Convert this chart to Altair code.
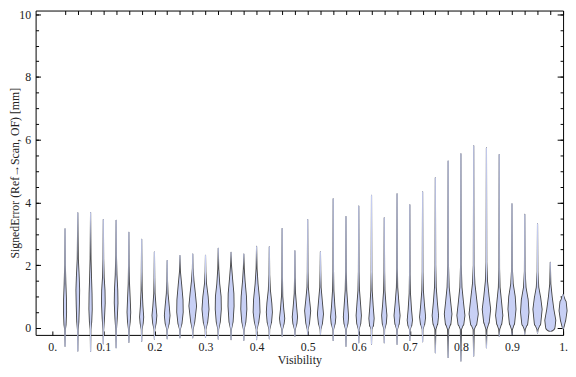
import altair as alt
import pandas as pd

# Violin positions (Visibility bins)
visibility = [0.025, 0.05, 0.075, 0.1, 0.125, 0.15, 0.175, 0.2, 0.225, 0.25,
              0.275, 0.3, 0.325, 0.35, 0.375, 0.4, 0.425, 0.45, 0.475, 0.5,
              0.525, 0.55, 0.575, 0.6, 0.625, 0.65, 0.675, 0.7, 0.725, 0.75,
              0.775, 0.8, 0.825, 0.85, 0.875, 0.9, 0.925, 0.95, 0.975, 1.0]

# Extremes of the signed error per bin [mm]
err_min = [-0.58, -0.73, -0.75, -0.50, -0.63, -0.45, -0.42, -0.35, -0.34, -0.31,
           -0.31, -0.30, -0.35, -0.37, -0.39, -0.37, -0.34, -0.26, -0.26, -0.21,
           -0.21, -0.40, -0.58, -0.47, -0.52, -0.47, -0.52, -0.40, -0.44, -0.79,
           -0.94, -1.05, -0.89, -0.63, -0.26, -0.21, -0.20, -0.16, -0.10, -0.02]
err_max = [3.16, 3.67, 3.68, 3.46, 3.43, 3.05, 2.83, 2.42, 2.15, 2.31,
           2.36, 2.32, 2.54, 2.41, 2.36, 2.60, 2.59, 3.17, 2.46, 3.46,
           2.43, 4.12, 3.55, 3.89, 4.23, 3.51, 4.28, 3.93, 4.34, 4.79,
           5.32, 5.55, 5.81, 5.74, 5.53, 3.96, 3.62, 3.32, 2.09, 1.07]

# Density profile knots (error value, relative density) between the extremes
knot_err = [
    [-0.05, 0.1, 0.5, 0.9, 1.4, 2.0],
    [-0.05, 0.2, 0.7, 1.2, 1.6, 2.2],
    [-0.05, 0.2, 0.6, 1.1, 1.6, 2.2],
    [-0.05, 0.3, 0.8, 1.2, 1.6, 2.2],
    [-0.05, 0.3, 0.8, 1.2, 1.7, 2.3],
    [-0.05, 0.2, 0.5, 0.9, 1.4, 2.0],
    [-0.05, 0.15, 0.35, 0.7, 1.2, 1.8],
    [-0.05, 0.15, 0.4, 0.7, 1.1, 1.6],
    [-0.05, 0.15, 0.4, 0.7, 1.1, 1.5],
    [-0.05, 0.15, 0.5, 0.9, 1.4, 1.8],
    [-0.05, 0.2, 0.7, 1.1, 1.5, 1.9],
    [-0.05, 0.2, 0.6, 1.0, 1.4, 1.8],
    [-0.05, 0.2, 0.6, 1.0, 1.4, 1.9],
    [-0.05, 0.2, 0.7, 1.1, 1.6, 2.0],
    [-0.05, 0.2, 0.6, 1.0, 1.5, 1.9],
    [-0.05, 0.2, 0.5, 0.9, 1.4, 1.9],
    [-0.05, 0.2, 0.5, 0.8, 1.2, 1.7],
    [-0.05, 0.15, 0.3, 0.6, 1.0, 1.6],
    [-0.05, 0.15, 0.35, 0.7, 1.1, 1.6],
    [-0.05, 0.15, 0.55, 0.9, 1.3, 1.8],
    [-0.05, 0.15, 0.45, 0.8, 1.3, 1.8],
    [-0.05, 0.15, 0.35, 0.7, 1.2, 1.8],
    [-0.05, 0.15, 0.35, 0.7, 1.2, 1.8],
    [-0.05, 0.15, 0.4, 0.75, 1.2, 1.8],
    [-0.05, 0.1, 0.3, 0.7, 1.2, 1.8],
    [-0.05, 0.15, 0.4, 0.75, 1.2, 1.8],
    [-0.05, 0.15, 0.4, 0.8, 1.3, 1.9],
    [-0.05, 0.1, 0.25, 0.6, 1.1, 1.7],
    [-0.05, 0.15, 0.35, 0.75, 1.2, 1.8],
    [-0.05, 0.15, 0.4, 0.8, 1.3, 2.0],
    [-0.05, 0.15, 0.45, 0.8, 1.3, 2.0],
    [-0.05, 0.15, 0.4, 0.8, 1.3, 2.0],
    [-0.05, 0.15, 0.45, 0.85, 1.4, 2.0],
    [-0.05, 0.2, 0.6, 1.0, 1.5, 2.1],
    [-0.05, 0.15, 0.4, 0.8, 1.3, 1.9],
    [-0.05, 0.15, 0.6, 1.0, 1.4, 1.9],
    [-0.05, 0.15, 0.5, 0.9, 1.3, 1.8],
    [-0.05, 0.15, 0.6, 0.95, 1.3, 1.8],
    [-0.05, 0.05, 0.25, 0.6, 1.0, 1.4],
    [0.05, 0.25, 0.55, 0.8, 0.95],
]
knot_dens = [
    [0.3, 1.0, 1.5, 1.4, 0.8, 0.3],
    [0.3, 1.0, 1.5, 1.8, 1.4, 0.5],
    [0.3, 1.1, 1.6, 1.4, 0.9, 0.4],
    [0.3, 1.1, 1.8, 1.6, 0.8, 0.3],
    [0.3, 1.1, 1.8, 1.6, 0.8, 0.3],
    [0.3, 1.3, 1.8, 1.3, 0.6, 0.3],
    [0.3, 1.5, 2.0, 1.2, 0.5, 0.3],
    [0.3, 1.7, 2.4, 1.5, 0.6, 0.3],
    [0.3, 2.0, 2.8, 2.0, 0.8, 0.3],
    [0.3, 2.0, 3.2, 3.0, 1.6, 0.4],
    [0.3, 2.0, 3.8, 2.6, 1.2, 0.3],
    [0.3, 2.2, 3.5, 2.6, 1.0, 0.3],
    [0.3, 2.0, 3.0, 2.8, 1.4, 0.4],
    [0.3, 2.0, 3.0, 2.8, 1.4, 0.4],
    [0.3, 2.0, 3.0, 2.6, 1.2, 0.4],
    [0.3, 2.2, 3.4, 3.0, 1.4, 0.4],
    [0.3, 2.2, 3.0, 2.4, 1.0, 0.3],
    [0.3, 2.0, 2.6, 1.6, 0.6, 0.3],
    [0.3, 2.0, 2.6, 1.6, 0.6, 0.3],
    [0.3, 1.8, 3.0, 1.8, 0.6, 0.3],
    [0.3, 2.0, 3.0, 2.0, 0.6, 0.3],
    [0.3, 2.0, 2.6, 1.6, 0.6, 0.3],
    [0.3, 2.0, 2.6, 1.8, 0.7, 0.3],
    [0.3, 2.0, 2.6, 1.8, 0.7, 0.3],
    [0.3, 2.0, 2.6, 1.6, 0.6, 0.3],
    [0.3, 2.0, 2.6, 1.6, 0.6, 0.3],
    [0.3, 2.2, 3.0, 1.8, 0.6, 0.3],
    [0.3, 2.0, 2.6, 1.6, 0.6, 0.3],
    [0.3, 2.2, 3.0, 1.8, 0.7, 0.3],
    [0.4, 2.4, 3.2, 2.0, 0.8, 0.3],
    [0.5, 2.8, 3.8, 2.6, 1.0, 0.3],
    [0.5, 3.0, 4.0, 2.6, 1.0, 0.3],
    [0.5, 3.2, 4.6, 3.2, 1.2, 0.3],
    [0.4, 2.8, 4.2, 2.6, 1.0, 0.3],
    [0.4, 2.6, 3.6, 2.4, 0.8, 0.3],
    [0.4, 2.6, 4.0, 3.2, 1.2, 0.3],
    [0.4, 3.0, 4.2, 3.4, 1.2, 0.3],
    [0.5, 3.2, 4.6, 3.2, 1.2, 0.3],
    [2.0, 4.8, 5.5, 3.5, 1.8, 0.5],
    [1.0, 2.6, 4.0, 3.2, 1.5],
]

x_tick_values = [0.0, 0.1, 0.2, 0.3, 0.4, 0.5, 0.6, 0.7, 0.8, 0.9, 1.0]
y_major_values = [0, 2, 4, 6, 8, 10]
y_minor_values = [0, 0.5, 1, 1.5, 2, 2.5, 3, 3.5, 4, 4.5, 5, 5.5, 6, 6.5, 7,
                  7.5, 8, 8.5, 9, 9.5, 10]

rows = []
for i, v in enumerate(visibility):
    es = [err_min[i]] + knot_err[i] + [err_max[i]]
    ds = [0.0] + knot_dens[i] + [0.0]
    for e, d in zip(es, ds):
        rows.append({"vis": v, "err": e, "dens": d})
df = pd.DataFrame(rows)

FONT = "Liberation Serif"
TXT = "#222222"

xs = alt.Scale(domain=[-0.0326, 1.0], nice=False, zero=False)
ys = alt.Scale(domain=[-0.22, 10.116], nice=False, zero=False)

base = alt.Chart(df).transform_calculate(
    w_out="2 * datum.dens + 1.1",
    w_in="max(2 * datum.dens - 0.7, 0)",
)

ax_bottom = alt.Axis(orient="bottom", values=x_tick_values, tickSize=4, offset=-4,
                     labelExpr="datum.value == 0 ? '0.' : (datum.value == 1 ? '1.' : format(datum.value, '.1f'))",
                     labelPadding=7, titlePadding=2, labelFlush=False, labelOverlap=False)
ax_left = alt.Axis(orient="left", values=y_major_values, tickSize=5, offset=-5,
                   labelPadding=5, titlePadding=-3, labelFlush=False, labelOverlap=False)

outline = base.mark_trail(clip=False, color="#383838", opacity=0.95).encode(
    x=alt.X("vis:Q", scale=xs, axis=ax_bottom, title="Visibility"),
    y=alt.Y("err:Q", scale=ys, axis=ax_left, title="SignedError (Ref→Scan, OF) [mm]"),
    size=alt.Size("w_out:Q", scale=None, legend=None),
    detail="vis:N",
    order=alt.Order("err:Q", sort="ascending"),
)

fill = base.mark_trail(clip=False, color="#c8d0f5").encode(
    x=alt.X("vis:Q", scale=xs, axis=None),
    y=alt.Y("err:Q", scale=ys, axis=None),
    size=alt.Size("w_in:Q", scale=None, legend=None),
    detail="vis:N",
    order=alt.Order("err:Q", sort="ascending"),
)

ghost = dict(opacity=0, clip=False)

top_right = base.mark_point(**ghost).encode(
    x=alt.X("vis:Q", scale=xs, title="",
            axis=alt.Axis(orient="top", values=visibility, tickSize=4, offset=-4, labels=False)),
    y=alt.Y("err:Q", scale=ys, title="",
            axis=alt.Axis(orient="right", values=y_major_values, tickSize=6, offset=-6, labels=False)),
)

left_minor = base.mark_point(**ghost).encode(
    x=alt.X("vis:Q", scale=xs, axis=None),
    y=alt.Y("err:Q", scale=ys, title="",
            axis=alt.Axis(orient="left", values=y_minor_values, tickSize=3, offset=-3, labels=False)),
)

right_minor = base.mark_point(**ghost).encode(
    x=alt.X("vis:Q", scale=xs, axis=None),
    y=alt.Y("err:Q", scale=ys, title="",
            axis=alt.Axis(orient="right", values=y_minor_values, tickSize=3, offset=-3, labels=False)),
)

chart = alt.layer(outline, fill, top_right, left_minor, right_minor).resolve_axis(
    x="independent", y="independent"
).properties(
    width=535, height=329,
    autosize=alt.AutoSizeParams(type="none"),
    padding={"left": 28, "top": 0, "right": 5, "bottom": 32},
).configure_view(
    stroke="#000000", strokeWidth=1,
).configure_axis(
    domain=False, grid=False, tickColor="#000000", tickWidth=1,
    labelFont=FONT, labelFontSize=12, labelColor=TXT,
    titleFont=FONT, titleFontSize=12, titleFontWeight="normal", titleColor=TXT,
)

chart.save("out.html", embed_options={"renderer": "svg", "actions": False})
